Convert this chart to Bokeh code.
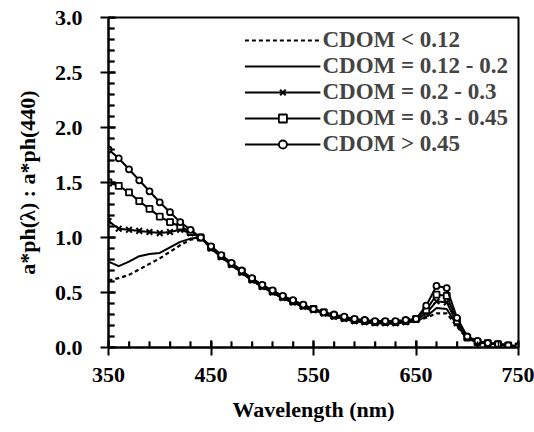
from bokeh.plotting import figure
from bokeh.models import FixedTicker, PrintfTickFormatter, Legend, LegendItem
from bokeh.embed import file_html
from bokeh.resources import INLINE

wavelength = list(range(350, 751, 10))

cdom_gt_045 = [1.80, 1.72, 1.62, 1.52, 1.42, 1.32, 1.23, 1.14, 1.07, 1.00,
               0.92, 0.84, 0.77, 0.70, 0.63, 0.57, 0.52, 0.47, 0.43, 0.39,
               0.35, 0.32, 0.30, 0.28, 0.26, 0.25, 0.24, 0.24, 0.24, 0.25,
               0.26, 0.38, 0.56, 0.54, 0.27, 0.10, 0.06, 0.04, 0.03, 0.02, 0.01]
cdom_030_045 = [1.50, 1.47, 1.41, 1.33, 1.26, 1.19, 1.14, 1.10, 1.05, 1.00,
                0.91, 0.83, 0.76, 0.69, 0.62, 0.56, 0.51, 0.46, 0.42, 0.38,
                0.35, 0.32, 0.29, 0.27, 0.25, 0.24, 0.23, 0.23, 0.23, 0.24,
                0.26, 0.34, 0.48, 0.47, 0.24, 0.09, 0.05, 0.04, 0.03, 0.02, 0.01]
cdom_020_030 = [1.15, 1.08, 1.07, 1.06, 1.05, 1.04, 1.05, 1.07, 1.04, 1.00,
                0.90, 0.82, 0.75, 0.68, 0.61, 0.55, 0.50, 0.45, 0.41, 0.37,
                0.34, 0.31, 0.28, 0.26, 0.24, 0.23, 0.22, 0.22, 0.22, 0.23,
                0.25, 0.31, 0.42, 0.41, 0.22, 0.09, 0.05, 0.04, 0.03, 0.02, 0.01]
cdom_012_020 = [0.78, 0.74, 0.78, 0.83, 0.85, 0.86, 0.91, 0.96, 0.99, 1.00,
                0.92, 0.84, 0.76, 0.69, 0.62, 0.56, 0.50, 0.45, 0.41, 0.37,
                0.34, 0.31, 0.28, 0.26, 0.24, 0.23, 0.22, 0.22, 0.22, 0.23,
                0.24, 0.28, 0.36, 0.35, 0.20, 0.08, 0.05, 0.04, 0.03, 0.02, 0.01]
cdom_lt_012 = [0.61, 0.63, 0.66, 0.71, 0.76, 0.81, 0.87, 0.93, 0.98, 1.00,
               0.91, 0.83, 0.75, 0.68, 0.61, 0.55, 0.50, 0.45, 0.41, 0.37,
               0.33, 0.30, 0.28, 0.26, 0.24, 0.23, 0.22, 0.22, 0.22, 0.23,
               0.24, 0.27, 0.31, 0.31, 0.19, 0.08, 0.05, 0.04, 0.03, 0.02, 0.01]

labels = ["CDOM < 0.12", "CDOM = 0.12 - 0.2", "CDOM = 0.2 - 0.3",
          "CDOM = 0.3 - 0.45", "CDOM > 0.45"]
x_ticks = [350, 450, 550, 650, 750]
x_minor_ticks = list(range(350, 751, 20))
y_ticks = [0.0, 0.5, 1.0, 1.5, 2.0, 2.5, 3.0]
y_minor_ticks = [i / 10 for i in range(0, 31)]

FONT = "Liberation Serif"

p = figure(width=534, height=432, x_range=(350, 750), y_range=(0, 3.0),
           output_backend="svg", toolbar_location=None,
           min_border_left=108, min_border_right=16, min_border_top=17,
           min_border_bottom=85)

# axes styling first
p.xaxis.ticker = FixedTicker(ticks=x_ticks, minor_ticks=x_minor_ticks)
p.yaxis.ticker = FixedTicker(ticks=y_ticks, minor_ticks=y_minor_ticks)
p.yaxis.formatter = PrintfTickFormatter(format="%.1f")
p.axis.axis_line_color = "black"
p.axis.axis_line_width = 2
p.axis.major_tick_line_color = "black"
p.axis.major_tick_line_width = 2
p.axis.minor_tick_line_color = "black"
p.axis.minor_tick_line_width = 1.5
p.axis.major_tick_in = 7
p.axis.major_tick_out = 8
p.axis.minor_tick_in = 6
p.axis.minor_tick_out = 0
p.axis.major_label_text_font = FONT
p.axis.major_label_text_font_style = "bold"
p.axis.major_label_text_font_size = "22px"
p.axis.major_label_text_color = "black"
p.axis.axis_label_text_font = FONT
p.axis.axis_label_text_font_style = "bold"
p.axis.axis_label_text_font_size = "22px"
p.axis.axis_label_text_color = "black"
p.xaxis.axis_label = "Wavelength (nm)"
p.xaxis.major_label_standoff = 12
p.xaxis.axis_label_standoff = 12
p.yaxis.axis_label = "a*ph(λ) : a*ph(440)"
p.yaxis.major_label_standoff = 18
p.yaxis.axis_label_standoff = 12

p.xgrid.grid_line_color = None
p.ygrid.grid_line_color = None
p.outline_line_color = "black"
p.outline_line_width = 2

# inner tick marks drawn from the tick lists (backup for the axis ticks)
y_major_set = set(y_ticks)
y_tick_len = [6.8 if v in y_major_set else 5.9 for v in y_minor_ticks]
p.segment(x0=[350] * len(y_minor_ticks), y0=y_minor_ticks,
          x1=[350 + d for d in y_tick_len], y1=y_minor_ticks,
          line_color="black", line_width=1.8)
x_major_set = set(x_ticks)
x_tick_len = [0.064 if v in x_major_set else 0.055 for v in x_minor_ticks]
p.segment(x0=x_minor_ticks, y0=[0] * len(x_minor_ticks),
          x1=x_minor_ticks, y1=x_tick_len,
          line_color="black", line_width=1.8)

# series
r_dash = p.line(wavelength, cdom_lt_012, line_color="black", line_width=2.2, line_dash="4 3")
r_solid = p.line(wavelength, cdom_012_020, line_color="black", line_width=2)
r_x_l = p.line(wavelength, cdom_020_030, line_color="black", line_width=2)
r_x_m = p.scatter(wavelength, cdom_020_030, marker="x", size=8, line_color="black", line_width=2)
r_s_l = p.line(wavelength, cdom_030_045, line_color="black", line_width=2)
r_s_m = p.scatter(wavelength, cdom_030_045, marker="square", size=6, line_color="black",
                  fill_color="white", line_width=1.8)
r_c_l = p.line(wavelength, cdom_gt_045, line_color="black", line_width=2)
r_c_m = p.scatter(wavelength, cdom_gt_045, marker="circle", size=6, line_color="black",
                  fill_color="white", line_width=1.8)

legend = Legend(items=[
    LegendItem(label=labels[0], renderers=[r_dash]),
    LegendItem(label=labels[1], renderers=[r_solid]),
    LegendItem(label=labels[2], renderers=[r_x_l, r_x_m]),
    LegendItem(label=labels[3], renderers=[r_s_l, r_s_m]),
    LegendItem(label=labels[4], renderers=[r_c_l, r_c_m]),
], location="top_right")
legend.background_fill_alpha = 0
legend.border_line_color = None
legend.label_text_font = FONT
legend.label_text_font_style = "bold"
legend.label_text_font_size = "23px"
legend.glyph_width = 76
legend.glyph_height = 20
legend.label_height = 20
legend.spacing = 0
legend.label_standoff = 2
legend.padding = 2
legend.margin = 10
p.add_layout(legend)

open("out.html", "w").write(file_html(p, INLINE))
